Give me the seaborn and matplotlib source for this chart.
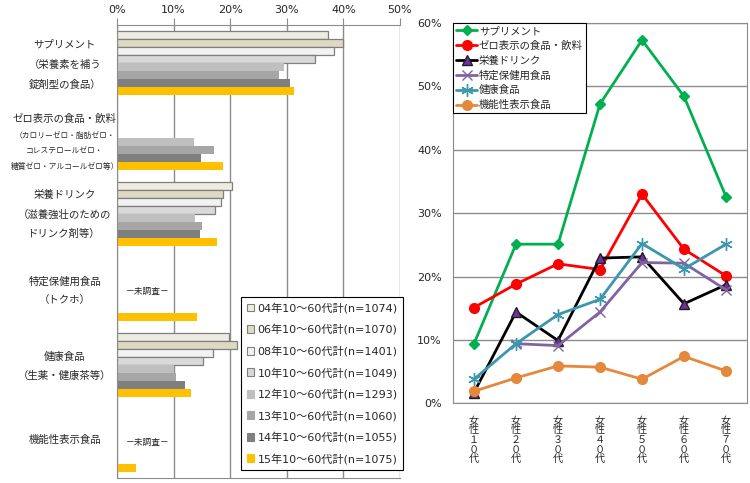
import matplotlib
matplotlib.use("Agg")
import matplotlib.pyplot as plt
from matplotlib.patches import Patch
import seaborn as sns
import pandas as pd
import numpy as np

nan = np.nan

# ---- left chart: usage by survey year (%) ----
categories = ["サプリメント", "ゼロ表示", "栄養ドリンク", "トクホ", "健康食品", "機能性表示食品"]
years = ["04年10～60代計(n=1074)", "06年10～60代計(n=1070)", "08年10～60代計(n=1401)",
         "10年10～60代計(n=1049)", "12年10～60代計(n=1293)", "13年10～60代計(n=1060)",
         "14年10～60代計(n=1055)", "15年10～60代計(n=1075)"]
supplement = [37.3, 39.9, 38.3, 35.0, 29.5, 28.6, 30.6, 31.2]
zero_food = [nan, nan, nan, nan, 13.6, 17.1, 14.8, 18.7]
drink = [20.3, 18.8, 18.4, 17.4, 13.7, 15.0, 14.6, 17.6]
tokuho = [nan, nan, nan, nan, nan, nan, nan, 14.2]
health = [19.8, 21.2, 17.0, 15.2, 10.0, 10.4, 12.1, 13.1]
functional = [nan, nan, nan, nan, nan, nan, nan, 3.4]
year_colors = ["#EEECE1", "#DDD9C3", "#F2F2F2", "#D9D9D9",
               "#BFBFBF", "#A6A6A6", "#7F7F7F", "#FFC000"]

# label lines for each category: (text, small font?)
label_lines = [
    [("サプリメント", False), ("（栄養素を補う", False), ("錠剤型の食品）", False)],
    [("ゼロ表示の食品・飲料", False), ("（カロリーゼロ・脂肪ゼロ・", True),
     ("コレステロールゼロ・", True), ("糖質ゼロ・アルコールゼロ等）", True)],
    [("栄養ドリンク", False), ("（滋養強壮のための", False), ("ドリンク剤等）", False)],
    [("特定保健用食品", False), ("（トクホ）", False)],
    [("健康食品", False), ("（生薬・健康茶等）", False)],
    [("機能性表示食品", False)],
]

# ---- right chart: 2015 by age group (%) ----
ages = ["女性１０代", "女性２０代", "女性３０代", "女性４０代", "女性５０代", "女性６０代", "女性７０代"]
series_names = ["サプリメント", "ゼロ表示の食品・飲料", "栄養ドリンク", "特定保健用食品", "健康食品", "機能性表示食品"]
supp_age = [9.4, 25.1, 25.1, 47.2, 57.3, 48.4, 32.6]
zero_age = [15.1, 18.8, 22.0, 21.1, 33.0, 24.3, 20.1]
drink_age = [1.7, 14.4, 9.9, 22.9, 23.1, 15.7, 18.7]
tokuho_age = [nan, 9.4, 9.1, 14.4, 22.2, 22.1, 17.9]
health_age = [3.8, 9.4, 14.0, 16.4, 25.2, 21.2, 25.1]
func_age = [1.9, 4.0, 5.9, 5.7, 3.8, 7.4, 5.1]

sns.set_style("white")
plt.rcParams["font.family"] = ["DejaVu Sans", "Noto Sans CJK JP"]

fig = plt.figure(figsize=(7.5, 4.83), dpi=100)
grid_c = "#8C8C8C"

# ================= left chart =================
ax = fig.add_axes([117 / 750, 5 / 483, 283 / 750, 453 / 483])
left_df = pd.DataFrame({
    "category": np.repeat(categories, len(years)),
    "year": years * len(categories),
    "value": supplement + zero_food + drink + tokuho + health + functional,
})
sns.barplot(data=left_df, y="category", x="value", hue="year", hue_order=years,
            palette=year_colors, orient="h", width=0.85, saturation=1,
            errorbar=None, legend=False, ax=ax)
for i, cont in enumerate(ax.containers):
    for bar in cont:
        if i < 4:
            bar.set_edgecolor("#7F7F7F")
            bar.set_linewidth(0.9)
        else:
            bar.set_linewidth(0)

ax.set_xlim(0, 50)
ax.set_ylim(len(categories) - 0.5, -0.5)
ax.set_xticks(range(0, 51, 10))
ax.set_xticklabels([f"{t}%" for t in range(0, 51, 10)], fontsize=8)
ax.xaxis.tick_top()
ax.tick_params(axis="x", direction="out", length=5, color=grid_c, pad=2)
ax.set_yticks(np.arange(-0.5, len(categories), 1.0))
ax.set_yticklabels([])
ax.tick_params(axis="y", direction="out", length=4, color=grid_c)
ax.xaxis.grid(True, color=grid_c, lw=1)
ax.set_axisbelow(True)
ax.set_xlabel("")
ax.set_ylabel("")
for side in ["left", "top", "bottom"]:
    ax.spines[side].set_color(grid_c)
ax.spines["right"].set_visible(False)

# category labels, several lines each
px = 1 / 75.5  # one pixel in data units
line_px = {0: [-18, 2, 22], 1: [-20, -3, 13, 28], 2: [-19, 1, 20],
           3: [-8, 11], 4: [-8, 11], 5: [0]}
for i, lines in enumerate(label_lines):
    for (txt, small), off in zip(lines, line_px[i]):
        ax.text(-0.185, i + off * px, txt, transform=ax.get_yaxis_transform(),
                ha="center", va="center", fontsize=5.6 if small else 7.5)
for i in [3, 5]:
    ax.text(5.5, i + 2 * px, "－未調査－", ha="center", va="center", fontsize=6.3)

handles = [Patch(facecolor=c, edgecolor="#7F7F7F" if k < 4 else c, lw=0.8)
           for k, c in enumerate(year_colors)]
leg = fig.legend(handles, years, loc="upper left", bbox_to_anchor=(241 / 750, 1 - 297 / 483),
                 fontsize=8, frameon=True, fancybox=False, framealpha=1, edgecolor="black",
                 handlelength=0.7, handleheight=0.7, handletextpad=0.3,
                 labelspacing=0.96, borderpad=0.5, borderaxespad=0)
leg.get_frame().set_linewidth(0.8)

# ================= right chart =================
ax2 = fig.add_axes([453 / 750, 1 - 403.3 / 483, 294 / 750, 380.4 / 483])
x_pos = np.arange(len(ages))
styles = [
    (supp_age, dict(color="#00B050", marker="D", markersize=5)),
    (zero_age, dict(color="#FF0000", marker="o", markersize=7)),
    (drink_age, dict(color="black", marker="^", markersize=7,
                     markerfacecolor="#7030A0", markeredgecolor="#1F1F1F")),
    (tokuho_age, dict(color="#8064A2", marker="x", markersize=7)),
    (health_age, dict(color="#3B97AD", marker=(6, 2, 0), markersize=9)),
    (func_age, dict(color="#E4893C", marker="o", markersize=7)),
]
for name, (vals, st) in zip(series_names, styles):
    st.setdefault("markeredgecolor", st["color"])
    sns.lineplot(x=x_pos, y=vals, lw=2, label=name, ax=ax2, markeredgewidth=1, **st)

ax2.set_xlim(-0.5, len(ages) - 0.5)
ax2.set_ylim(0, 60)
ax2.set_yticks(range(0, 61, 10))
ax2.set_yticklabels([f"{t}%" for t in range(0, 61, 10)], fontsize=8)
ax2.set_xticks(x_pos)
ax2.set_xticklabels(["\n".join(a) for a in ages], fontsize=7.3, linespacing=0.95)
ax2.set_xticks(np.arange(-0.5, len(ages), 1.0), minor=True)
ax2.tick_params(axis="x", which="major", length=0, pad=9)
ax2.tick_params(axis="x", which="minor", direction="out", length=5, color=grid_c)
ax2.tick_params(axis="y", direction="out", length=5, color=grid_c, pad=3)
ax2.yaxis.grid(True, color=grid_c, lw=1)
ax2.set_axisbelow(True)
for side in ax2.spines:
    ax2.spines[side].set_color(grid_c)
ax2.set_xlabel("")
ax2.set_ylabel("")
leg2 = ax2.legend(loc="upper left", bbox_to_anchor=(0, 1), fontsize=7.5, frameon=True,
                  fancybox=False, framealpha=1, edgecolor="black", handlelength=2.0,
                  handletextpad=0.2, labelspacing=0.45, borderpad=0.3, borderaxespad=0)
leg2.get_frame().set_linewidth(0.8)

fig.savefig("out.png", dpi=100)
